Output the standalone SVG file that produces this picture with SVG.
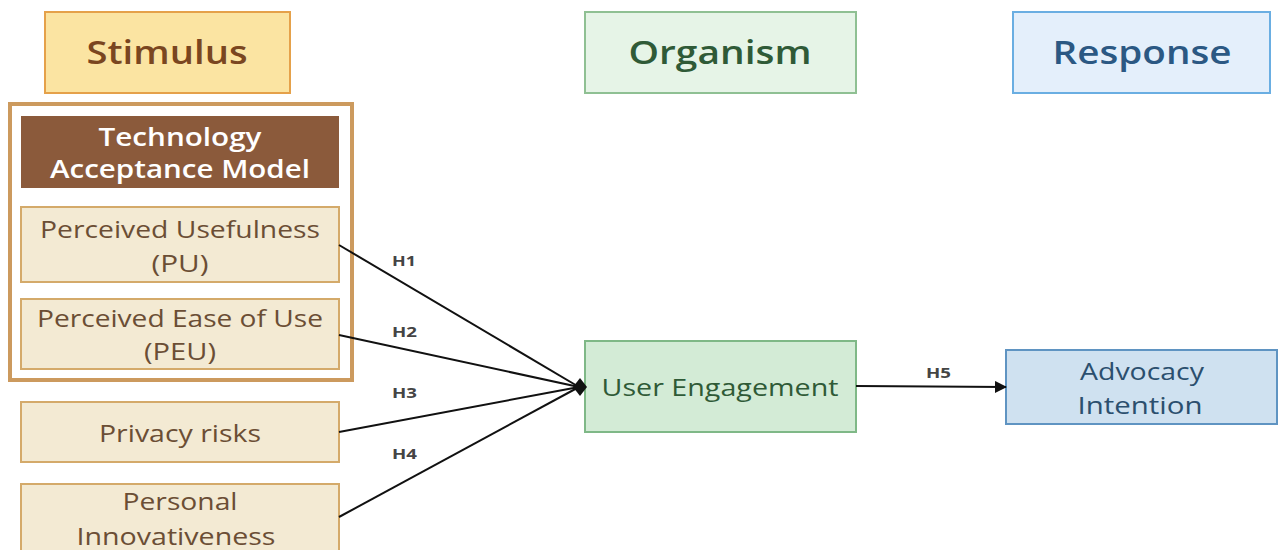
<svg xmlns="http://www.w3.org/2000/svg" width="1278" height="550" viewBox="0 0 1278 550">
<style>
text{font-family:"Open Sans","Noto Sans","DejaVu Sans",sans-serif;text-anchor:middle}
.hdr{font-size:32px;font-weight:600}
.item{fill:#f3ead3;stroke:#d4aa6a;stroke-width:2}
.itxt{font-size:24px;fill:#6b4e35}
.lbl{font-size:15px;font-weight:bold;fill:#444;text-anchor:start}
.conn{stroke:#111;stroke-width:2;fill:none}
</style>
<defs>
<marker id="arr" viewBox="0 0 12 12" refX="11" refY="6" markerWidth="12" markerHeight="12" markerUnits="userSpaceOnUse" orient="auto">
<path d="M0,0 L12,6 L0,12 Z" fill="#111"/>
</marker>
</defs>
<rect width="1278" height="550" fill="#fff"/>
<g id="stimulus"><rect x="45" y="12" width="245" height="81" fill="#fbe4a2" stroke="#e5a14a" stroke-width="2"/><text class="hdr" x="167" y="64" fill="#7a4620" textLength="161" lengthAdjust="spacingAndGlyphs">Stimulus</text></g>
<g id="organism"><rect x="585" y="12" width="271" height="81" fill="#e6f4e7" stroke="#8fc093" stroke-width="2"/><text class="hdr" x="720" y="64" fill="#2f5a37" textLength="183" lengthAdjust="spacingAndGlyphs">Organism</text></g>
<g id="response"><rect x="1013" y="12" width="257" height="81" fill="#e4effb" stroke="#6aaee2" stroke-width="2"/><text class="hdr" x="1142" y="64" fill="#2b5883" textLength="179" lengthAdjust="spacingAndGlyphs">Response</text></g>
<g id="tam"><rect x="10" y="104" width="342" height="276" fill="#fff" stroke="#cc9a5e" stroke-width="4"/>
<rect x="21" y="116" width="318" height="72" fill="#8b5a3b"/>
<text x="180" y="146" font-size="25" font-weight="600" fill="#fff" textLength="163" lengthAdjust="spacingAndGlyphs">Technology</text>
<text x="180" y="178" font-size="25" font-weight="600" fill="#fff" textLength="260" lengthAdjust="spacingAndGlyphs">Acceptance Model</text></g>
<g id="pu"><rect class="item" x="21" y="207" width="318" height="75"/><text class="itxt" x="180" y="238" textLength="280" lengthAdjust="spacingAndGlyphs">Perceived Usefulness</text><text class="itxt" x="180" y="272" textLength="57" lengthAdjust="spacingAndGlyphs">(PU)</text></g>
<g id="peu"><rect class="item" x="21" y="299" width="318" height="70"/><text class="itxt" x="180" y="327" textLength="286" lengthAdjust="spacingAndGlyphs">Perceived Ease of Use</text><text class="itxt" x="180" y="360" textLength="72" lengthAdjust="spacingAndGlyphs">(PEU)</text></g>
<g id="privacy"><rect class="item" x="21" y="402" width="318" height="60"/><text class="itxt" x="180" y="442" textLength="162" lengthAdjust="spacingAndGlyphs">Privacy risks</text></g>
<g id="personal"><rect class="item" x="21" y="484" width="318" height="80"/><text class="itxt" x="180" y="510" textLength="115" lengthAdjust="spacingAndGlyphs">Personal</text><text class="itxt" x="176" y="545" textLength="199" lengthAdjust="spacingAndGlyphs">Innovativeness</text></g>
<g id="engagement"><rect x="585" y="341" width="271" height="91" fill="#d3ebd6" stroke="#7fb887" stroke-width="2"/><text x="720" y="396" font-size="24" fill="#2f5a37" textLength="237" lengthAdjust="spacingAndGlyphs">User Engagement</text></g>
<g id="advocacy"><rect x="1006" y="350" width="271" height="74" fill="#cfe1f0" stroke="#5f94c2" stroke-width="2"/><text x="1142" y="380" font-size="24" fill="#2b4f6e" textLength="124" lengthAdjust="spacingAndGlyphs">Advocacy</text><text x="1140" y="414" font-size="24" fill="#2b4f6e" textLength="125" lengthAdjust="spacingAndGlyphs">Intention</text></g>
<g id="connectors">
<path class="conn" d="M339,245 L579,387"/>
<path class="conn" d="M339,335 L579,387"/>
<path class="conn" d="M339,432 L579,387"/>
<path class="conn" d="M339,517 L579,387"/>
<polygon points="573,387 580,378 587,387 580,396" fill="#111"/>
<path class="conn" d="M856,386 L1006,387" marker-end="url(#arr)"/>
<text class="lbl" x="392" y="266" textLength="24" lengthAdjust="spacingAndGlyphs">H1</text>
<text class="lbl" x="392" y="337" textLength="25" lengthAdjust="spacingAndGlyphs">H2</text>
<text class="lbl" x="392" y="398" textLength="25" lengthAdjust="spacingAndGlyphs">H3</text>
<text class="lbl" x="392" y="459" textLength="25" lengthAdjust="spacingAndGlyphs">H4</text>
<text class="lbl" x="926" y="378" textLength="25" lengthAdjust="spacingAndGlyphs">H5</text>
</g>
</svg>
